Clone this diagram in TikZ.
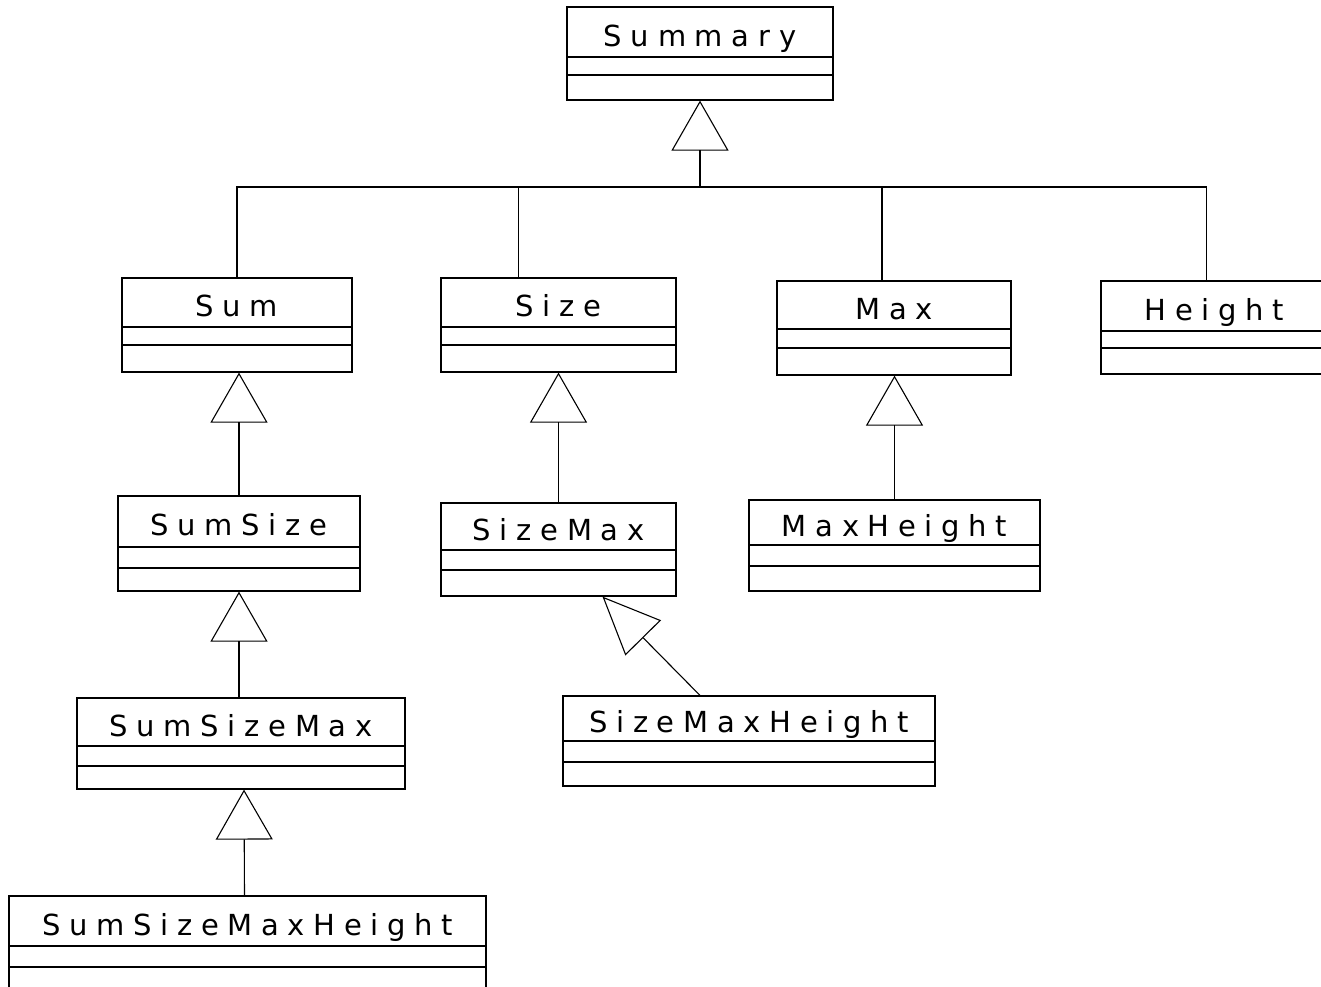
\documentclass[tikz,border=0pt]{standalone}
\usepackage{fontspec}
\setmainfont{DejaVu Sans}[LetterSpace=30]
\usetikzlibrary{arrows.meta}
\tikzset{classbox/.style={draw, line width=1.2pt, inner sep=0pt},
  classname/.style={anchor=base, inner sep=0pt, font=\fontsize{29}{34}\selectfont},
  gen/.style={-{Triangle[open, length=50pt, width=57pt]}}}
% name, left, top, right, bottom, first and second divider, text
\newcommand{\umlclass}[8]{%
  \node[classbox, minimum width={#4pt-#2pt}, minimum height={#5pt-#3pt}] (#1) at ({(#2+#4)/2},{(#3+#5)/2}) {};
  \draw (#2,#6) -- (#4,#6) (#2,#7) -- (#4,#7);
  \node[classname] (#1-name) at ({(#2+#4)/2},{(#3+#6)/2+14}) {#8};}

\begin{document}
\begin{tikzpicture}[x=1pt, y=-1pt, line width=1.1pt]
  \useasboundingbox (0,0) rectangle (1321,986);
  \clip (0,0) rectangle (1321,986);
  \umlclass{summary}{567}{7}{833}{100}{57}{75}{Summary}
  \umlclass{sum}{122}{278}{352}{372}{327}{345}{Sum}
  \umlclass{size}{441}{278}{676}{372}{327}{345}{Size}
  \umlclass{max}{777}{281}{1011}{375}{329}{348}{Max}
  \umlclass{height}{1101}{281}{1328}{374}{331}{348}{Height}
  \umlclass{sumsize}{118}{496}{360}{591}{547}{568}{SumSize}
  \umlclass{sizemax}{441}{503}{676}{596}{550}{570}{SizeMax}
  \umlclass{maxheight}{749}{500}{1040}{591}{545}{566}{MaxHeight}
  \umlclass{sumsizemax}{77}{698}{405}{789}{746}{766}{SumSizeMax}
  \umlclass{sizemaxheight}{563}{696}{935}{786}{741}{762}{SizeMaxHeight}
  \umlclass{sumsizemaxheight}{9}{896}{486}{990}{946}{967}{SumSizeMaxHeight}

  \coordinate (bus) at (700,187);
  \draw[gen] (sum.north) |- (bus) -- (summary.south);
  \draw ([xshift=-40pt]size.north) |- (bus);
  \draw ([xshift=-12pt]max.north) |- (bus);
  \draw ([xshift=-8pt]height.north) |- (bus);

  \draw[gen] (sumsize.north) -- (sumsize.north |- sum.south);
  \draw[gen] (sizemax.north) -- (sizemax.north |- size.south);
  \draw[gen] (maxheight.north) -- (maxheight.north |- max.south);
  \draw[gen] (sumsize.south |- sumsizemax.north) -- (sumsize.south);
  \draw[gen] ([xshift=-3pt]sumsizemaxheight.north) -- ([xshift=3pt]sumsizemax.south);
  \draw[-{Triangle[open, length=58pt, width=50pt]}] ([xshift=-49pt]sizemaxheight.north) -- ([xshift=44pt]sizemax.south);
\end{tikzpicture}
\end{document}
